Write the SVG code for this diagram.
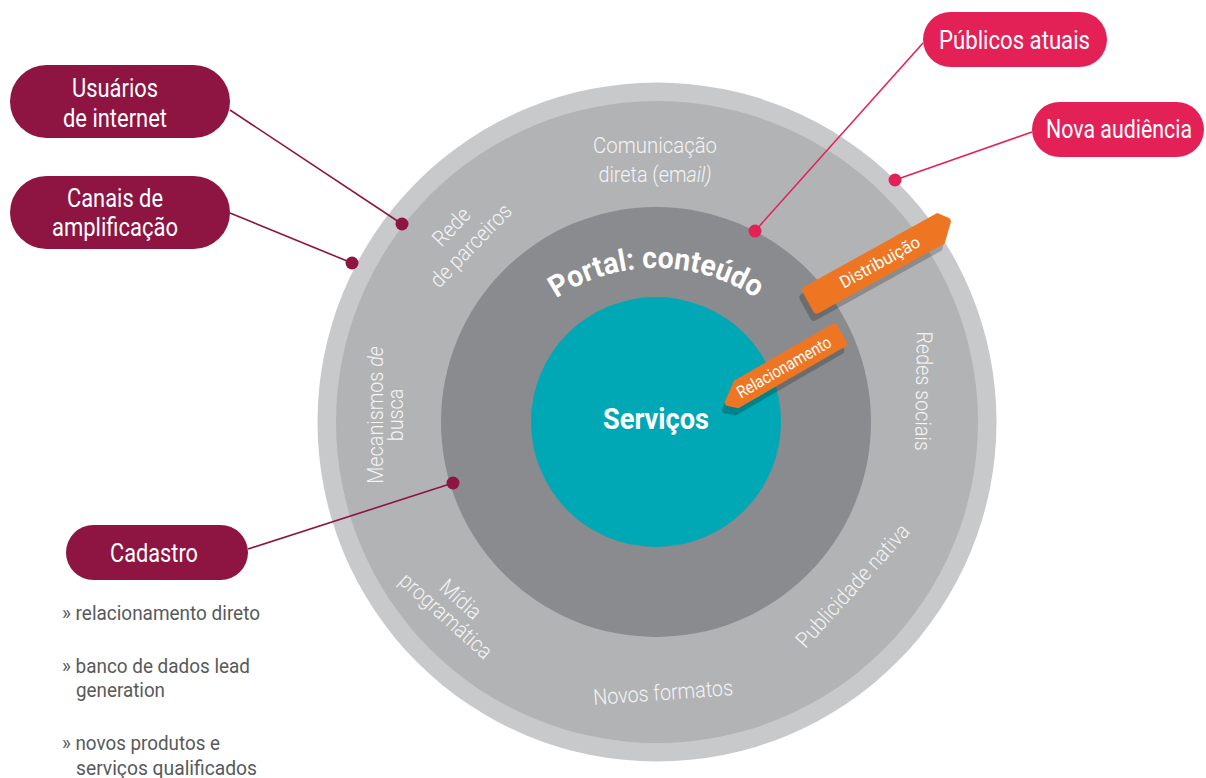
<svg xmlns="http://www.w3.org/2000/svg" width="1206" height="778" viewBox="0 0 1206 778">
  <defs>
    <style>
      .pill-crimson { fill: #8e1442; }
      .pill-pink { fill: #e42157; }
      .pill-text { font-family: Roboto, "Liberation Sans", sans-serif; font-size: 25px; fill: #ffffff; text-anchor: middle; }
      .ring-text { font-family: Roboto, "Liberation Sans", sans-serif; font-size: 22px; font-weight: 300; fill: #f4f4f4; text-anchor: middle; }
      .core-text { font-family: Roboto, "Liberation Sans", sans-serif; font-weight: 700; fill: #ffffff; text-anchor: middle; }
      .list-text { font-family: Roboto, "Liberation Sans", sans-serif; font-size: 20px; fill: #58595b; }
      .tag { fill: #ee7623; }
      .tag-shadow { fill: #000000; opacity: 0.22; }
      .tag-text { font-family: Roboto, "Liberation Sans", sans-serif; font-size: 17px; fill: #ffffff; text-anchor: middle; }
      .link-crimson { stroke: #8e1442; stroke-width: 1.6; fill: none; }
      .link-pink { stroke: #e42157; stroke-width: 1.6; fill: none; }
      .dot-crimson { fill: #8e1442; }
      .dot-pink { fill: #e42157; }
    </style>
    <path id="arc-portal" d="M 476 448 A 180 180 0 0 1 836 448"/>
  </defs>

  <!-- concentric rings -->
  <g id="rings">
    <circle cx="657" cy="422" r="339.5" fill="#c8c9cb"/>
    <circle cx="657" cy="422" r="321" fill="#b2b3b5"/>
    <circle cx="656" cy="422" r="215" fill="#8a8b8e"/>
    <circle cx="656" cy="422" r="125" fill="#00a7b5"/>
  </g>

  <!-- labels written on the outer band (narrowed to a condensed look) -->
  <g id="ring-labels">
    <text class="ring-text" x="655" y="153" textLength="124" lengthAdjust="spacingAndGlyphs">Comunicação</text>
    <g transform="translate(655,182) scale(0.9,1)">
      <text class="ring-text" x="0" y="0">direta (em<tspan font-style="italic">ail)</tspan></text>
    </g>
    <g transform="translate(461,236) rotate(-46) scale(0.9,1)">
      <text class="ring-text" x="0" y="-6">Rede</text>
      <text class="ring-text" x="0" y="21">de parceiros</text>
    </g>
    <g transform="translate(383,415) rotate(-90) scale(0.9,1)">
      <text class="ring-text" x="0" y="0">Mecanismos <tspan font-style="italic">de</tspan></text>
      <text class="ring-text" x="0" y="20">busca</text>
    </g>
    <g transform="translate(916,391) rotate(91) scale(0.9,1)">
      <text class="ring-text" x="0" y="0">Redes sociais</text>
    </g>
    <g transform="translate(853,586) rotate(-48) scale(0.9,1)">
      <text class="ring-text" x="0" y="7">Publicidade nativa</text>
    </g>
    <g transform="translate(453,608) rotate(42) scale(0.9,1)">
      <text class="ring-text" x="0" y="-4">Mídia</text>
      <text class="ring-text" x="0" y="18">programática</text>
    </g>
    <g transform="translate(663,692) rotate(-4) scale(0.9,1)">
      <text class="ring-text" x="0" y="8">Novos formatos</text>
    </g>
  </g>

  <!-- inner circles -->
  <g id="portal">
    <text class="core-text" font-size="30"><textPath href="#arc-portal" startOffset="50%" textLength="212" lengthAdjust="spacingAndGlyphs">Portal: conteúdo</textPath></text>
  </g>
  <g id="servicos">
    <text class="core-text" font-size="29" x="656" y="429" textLength="106" lengthAdjust="spacingAndGlyphs">Serviços</text>
  </g>

  <!-- orange flow tags -->
  <g id="tag-distribuicao" transform="translate(878,263) rotate(-29)">
    <path class="tag-shadow" transform="translate(-6,5)" d="M-76,-15 H76 L84,-5 Q85,-3 84,-1 L68,15 H-76 Q-80,15 -80,11 V-11 Q-80,-15 -76,-15 Z"/>
    <path class="tag" d="M-76,-15 H76 L84,-5 Q85,-3 84,-1 L68,15 H-76 Q-80,15 -80,11 V-11 Q-80,-15 -76,-15 Z"/>
    <text class="tag-text" x="2" y="6" textLength="89" lengthAdjust="spacingAndGlyphs">Distribuição</text>
  </g>
  <g id="tag-relacionamento" transform="translate(789,364) rotate(-30)">
    <path class="tag-shadow" transform="translate(-6,5)" d="M-56,-13 H57 Q61,-13 61,-9 V9 Q61,13 57,13 H-66 L-75,5 Q-76,3 -75,1 Z"/>
    <path class="tag" d="M-56,-13 H57 Q61,-13 61,-9 V9 Q61,13 57,13 H-66 L-75,5 Q-76,3 -75,1 Z"/>
    <text class="tag-text" x="-6" y="6" textLength="106" lengthAdjust="spacingAndGlyphs">Relacionamento</text>
  </g>

  <!-- connectors from the callouts to the rings -->
  <g id="connectors">
    <line class="link-crimson" x1="230" y1="110" x2="402" y2="224"/>
    <line class="link-crimson" x1="230" y1="213" x2="352" y2="263"/>
    <line class="link-crimson" x1="248" y1="549" x2="453" y2="483"/>
    <line class="link-pink" x1="923" y1="43" x2="755" y2="231"/>
    <line class="link-pink" x1="1032" y1="132" x2="895" y2="180"/>
    <circle class="dot-crimson" cx="402" cy="224" r="6.5"/>
    <circle class="dot-crimson" cx="352" cy="263" r="6.5"/>
    <circle class="dot-crimson" cx="453" cy="483" r="6.5"/>
    <circle class="dot-pink" cx="755" cy="231" r="6.5"/>
    <circle class="dot-pink" cx="895" cy="180" r="6.5"/>
  </g>

  <!-- callout pills -->
  <g id="usuarios">
    <rect class="pill-crimson" x="10" y="65" width="220" height="73" rx="36.5"/>
    <text class="pill-text" x="115" y="97" textLength="86" lengthAdjust="spacingAndGlyphs">Usuários</text>
    <text class="pill-text" x="115" y="127" textLength="104" lengthAdjust="spacingAndGlyphs">de internet</text>
  </g>
  <g id="canais">
    <rect class="pill-crimson" x="10" y="176" width="220" height="73" rx="36.5"/>
    <text class="pill-text" x="115" y="207" textLength="96" lengthAdjust="spacingAndGlyphs">Canais de</text>
    <text class="pill-text" x="115" y="236" textLength="126" lengthAdjust="spacingAndGlyphs">amplificação</text>
  </g>
  <g id="cadastro">
    <rect class="pill-crimson" x="66" y="525" width="182" height="55" rx="27.5"/>
    <text class="pill-text" x="154" y="562" textLength="88" lengthAdjust="spacingAndGlyphs">Cadastro</text>
  </g>
  <g id="publicos">
    <rect class="pill-pink" x="923" y="12" width="184" height="55" rx="27.5"/>
    <text class="pill-text" x="1014.5" y="49" textLength="151" lengthAdjust="spacingAndGlyphs">Públicos atuais</text>
  </g>
  <g id="nova-audiencia">
    <rect class="pill-pink" x="1032" y="102" width="172" height="55" rx="27.5"/>
    <text class="pill-text" x="1119" y="138" textLength="146" lengthAdjust="spacingAndGlyphs">Nova audiência</text>
  </g>

  <!-- cadastro details -->
  <g id="cadastro-list">
    <text class="list-text" x="62" y="620" textLength="198" lengthAdjust="spacingAndGlyphs">» relacionamento direto</text>
    <text class="list-text" x="62" y="673" textLength="188" lengthAdjust="spacingAndGlyphs">» banco de dados lead</text>
    <text class="list-text" x="76" y="697" textLength="89" lengthAdjust="spacingAndGlyphs">generation</text>
    <text class="list-text" x="62" y="750" textLength="158" lengthAdjust="spacingAndGlyphs">» novos produtos e</text>
    <text class="list-text" x="76" y="775" textLength="181" lengthAdjust="spacingAndGlyphs">serviços qualificados</text>
  </g>
</svg>
